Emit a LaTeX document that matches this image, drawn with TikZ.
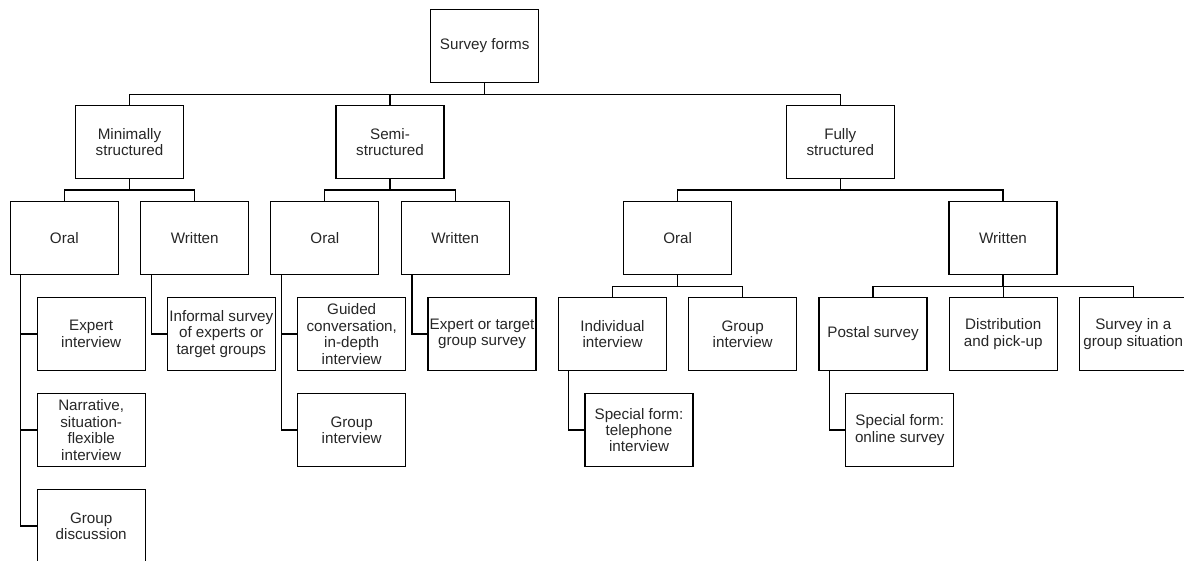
\documentclass[tikz,border=0pt]{standalone}
\usepackage{fontspec}
\setmainfont{Liberation Sans}
\begin{document}
\begin{tikzpicture}[x=1pt,y=-1pt,
  box/.style={draw=black,line width=1.1pt,minimum width=108pt,minimum height=73.4pt,
    inner sep=0pt,align=center,font=\fontsize{15.2}{16.4}\selectfont,text=black!85},
  link/.style={draw=black,line width=1.1pt}]
\useasboundingbox (0,0) rectangle (1184,561);
\clip (0,0) rectangle (1184,561);

% root
\node[box] (root) at (484.7,46) {Survey forms};

% first level
\node[box] (min)  at (129.5,142.2) {Minimally\\structured};
\node[box] (semi) at (390,142.2)   {Semi-\\structured};
\node[box] (full) at (840.3,142.2) {Fully\\structured};

% second level
\node[box] (minoral) at (64.3,238.2)  {Oral};
\node[box] (minwr)   at (194.7,238.2) {Written};
\node[box] (semoral) at (324.8,238.2) {Oral};
\node[box] (semwr)   at (455.2,238.2) {Written};
\node[box] (fuloral) at (677.7,238.2) {Oral};
\node[box] (fulwr)   at (1003,238.2)  {Written};

% third level
\node[box] (expert)    at (91.2,334)   {Expert\\interview};
\node[box] (informal)  at (221.3,334)  {Informal survey\\of experts or\\target groups};
\node[box] (guided)    at (351.7,334)  {Guided\\conversation,\\in-depth\\interview};
\node[box] (exptarget) at (482,334)    {Expert or target\\group survey};
\node[box] (indiv)     at (612.5,334)  {Individual\\interview};
\node[box] (grpint)    at (742.7,334)  {Group\\interview};
\node[box] (postal)    at (873,334)    {Postal survey};
\node[box] (distrib)   at (1003.2,334) {Distribution\\and pick-up};
\node[box] (grpsit)    at (1133.3,334) {Survey in a\\group situation};

% fourth level
\node[box] (narrative) at (91.2,430)  {Narrative,\\situation-\\flexible\\interview};
\node[box] (semgrp)    at (351.7,430) {Group\\interview};
\node[box] (phone)     at (639,430)   {Special form:\\telephone\\interview};
\node[box] (online)    at (899.8,430) {Special form:\\online survey};

% fifth level
\node[box] (discuss) at (91.2,526) {Group\\discussion};

% bus junctions
\coordinate (b0)  at (484.7,94.3);
\coordinate (b1)  at (129.5,190);
\coordinate (b2)  at (390,190);
\coordinate (b3)  at (840.3,190);
\coordinate (b4)  at (677.7,286.3);
\coordinate (b5)  at (1003,286.3);

% tree connectors
\draw[link] (root.south) -- (b0);
\draw[link] (min.north) |- (b0) -| (full.north);
\draw[link] (semi.north) -- (semi.north |- b0);

\draw[link] (min.south) -- (b1);
\draw[link] (minoral.north) |- (b1) -| (minwr.north);
\draw[link] (semi.south) -- (b2);
\draw[link] (semoral.north) |- (b2) -| (semwr.north);
\draw[link] (full.south) -- (b3);
\draw[link] (fuloral.north) |- (b3) -| (fulwr.north);

\draw[link] (fuloral.south) -- (b4);
\draw[link] (indiv.north) |- (b4) -| (grpint.north);
\draw[link] (fulwr.south) -- (b5);
\draw[link] (postal.north) |- (b5) -| (grpsit.north);
\draw[link] (distrib.north) -- (distrib.north |- b5);

% side branches
\draw[link] ([xshift=10.7pt]minoral.south west) |- (expert.west);
\draw[link] ([xshift=10.7pt]minoral.south west) |- (narrative.west);
\draw[link] ([xshift=10.7pt]minoral.south west) |- (discuss.west);
\draw[link] ([xshift=11pt]minwr.south west) |- (informal.west);
\draw[link] ([xshift=11pt]semoral.south west) |- (guided.west);
\draw[link] ([xshift=11pt]semoral.south west) |- (semgrp.west);
\draw[link] ([xshift=11.3pt]semwr.south west) |- (exptarget.west);
\draw[link] ([xshift=10.6pt]indiv.south west) |- (phone.west);
\draw[link] ([xshift=10.7pt]postal.south west) |- (online.west);
\end{tikzpicture}
\end{document}
